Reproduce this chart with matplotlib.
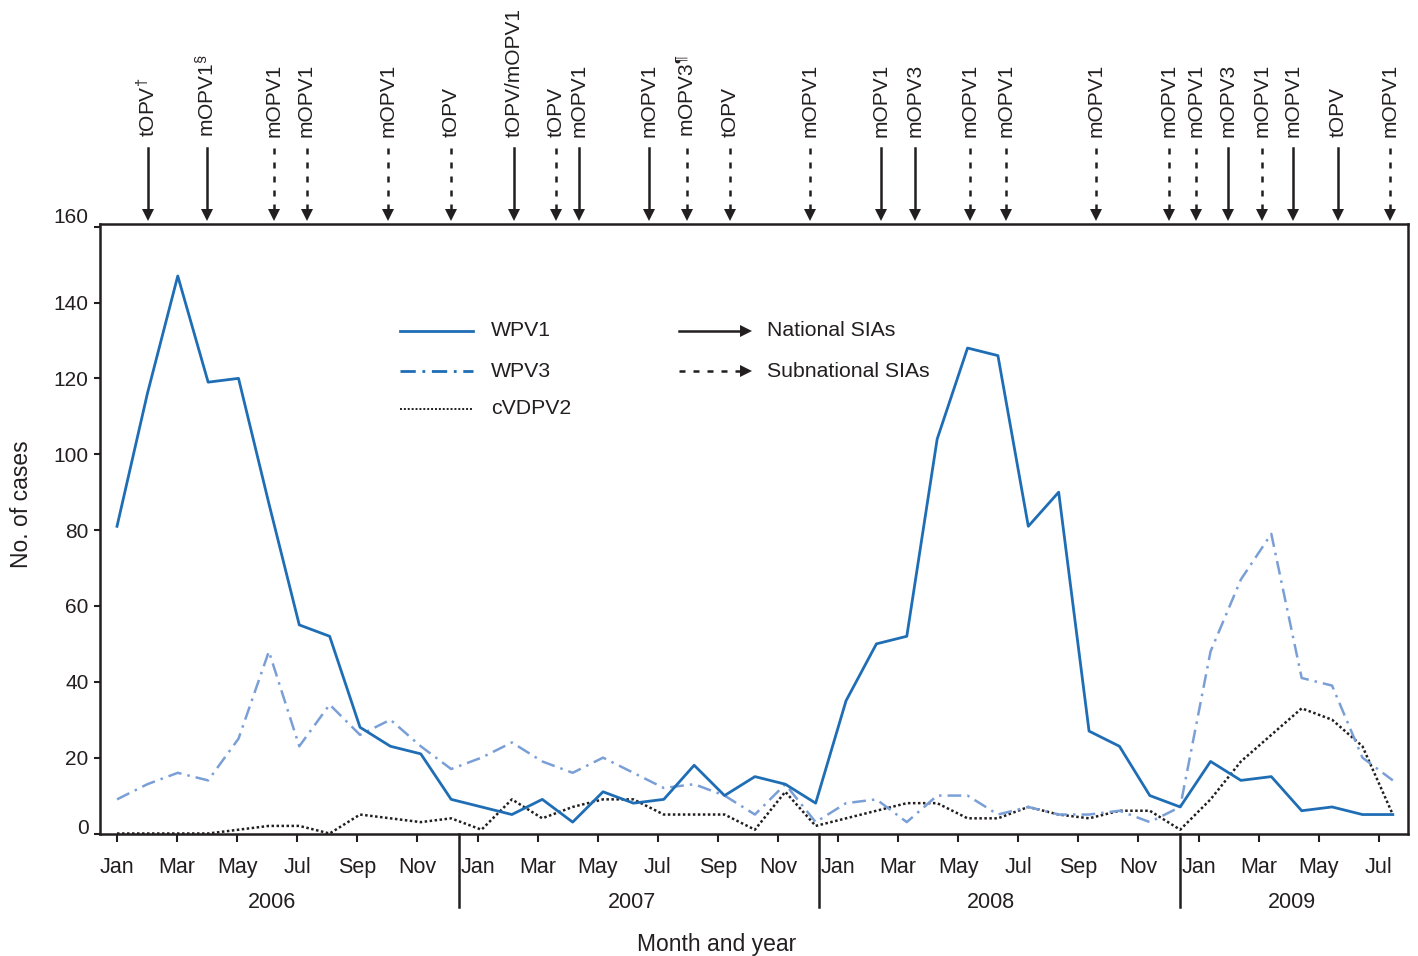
import numpy as np
import matplotlib
matplotlib.use('Agg')
import matplotlib.pyplot as plt
import matplotlib.transforms as mtransforms

plt.rcParams['font.family'] = ['Liberation Sans', 'DejaVu Sans']
plt.rcParams['mathtext.fontset'] = 'custom'
plt.rcParams['mathtext.rm'] = 'Liberation Sans'
plt.rcParams['mathtext.it'] = 'Liberation Sans:italic'

# monthly cases, Jan 2006 .. Jul 2009 (43 months)
wpv1 = [81, 116, 147, 119, 120, 87, 55, 52, 28, 23, 21, 9,
        7, 5, 9, 3, 11, 8, 9, 18, 10, 15, 13, 8,
        35, 50, 52, 104, 128, 126, 81, 90, 27, 23, 10, 7,
        19, 14, 15, 6, 7, 5, 5]
wpv3 = [9, 13, 16, 14, 25, 48, 23, 34, 26, 30, 23, 17,
        20, 24, 19, 16, 20, 16, 12, 13, 10, 5, 13, 3,
        8, 9, 3, 10, 10, 5, 7, 5, 5, 6, 3, 7,
        48, 67, 79, 41, 39, 20, 14]
cvdpv2 = [0, 0, 0, 0, 1, 2, 2, 0, 5, 4, 3, 4,
          1, 9, 4, 7, 9, 9, 5, 5, 5, 1, 11, 2,
          4, 6, 8, 8, 4, 4, 7, 5, 4, 6, 6, 1,
          9, 19, 26, 33, 30, 23, 5]

# SIA campaigns: position in months from Jan 2006, label, national (True) / subnational
sia_pos = [1.03, 2.97, 5.18, 6.24, 8.93, 11.0, 13.08, 14.45, 15.2, 17.5,
           18.77, 20.18, 22.83, 25.14, 26.27, 28.08, 29.26, 32.23, 34.64,
           35.52, 36.58, 37.71, 38.7, 40.2, 41.9]
sia_lab = [r'tOPV$^{\dagger}$', r'mOPV1$^{\S}$', 'mOPV1', 'mOPV1', 'mOPV1', 'tOPV',
           'tOPV/mOPV1', 'tOPV', 'mOPV1', 'mOPV1', r'mOPV3$^{\P}$', 'tOPV',
           'mOPV1', 'mOPV1', 'mOPV3', 'mOPV1', 'mOPV1', 'mOPV1', 'mOPV1',
           'mOPV1', 'mOPV3', 'mOPV1', 'mOPV1', 'tOPV', 'mOPV1']
sia_national = [True, True, False, False, False, False, True, False, True, True,
                False, False, False, True, True, False, False, False, False,
                False, True, False, True, True, False]

month_labels = ['Jan', 'Mar', 'May', 'Jul', 'Sep', 'Nov'] * 3 + ['Jan', 'Mar', 'May', 'Jul']
years = ['2006', '2007', '2008', '2009']

INK = '#231f20'
C_WPV1 = '#1f6eb5'
C_WPV3 = '#7a9fd6'

# month ticks in the source sit on a slightly tighter grid than the data points
TICK_STEP = 0.989

fig = plt.figure(figsize=(14.18, 9.56), dpi=100)
ax = fig.add_axes([100 / 1418, 1 - 833.5 / 956, 1308 / 1418, 609.5 / 956])

x = np.arange(len(wpv1))
ax.plot(x, cvdpv2, color=INK, lw=1.8, linestyle=(0, (1, 1)))
ax.plot(x, wpv3, color=C_WPV3, lw=1.8, dashes=[5.5, 2.4, 1, 2.4])
ax.plot(x, wpv1, color=C_WPV1, lw=2.0)

ax.set_xlim(-0.56, 42.5)
ax.set_ylim(0, 160.7)

for s in ax.spines.values():
    s.set_linewidth(1.8)
    s.set_color(INK)

ax.set_yticks(range(0, 161, 20))
ax.tick_params(axis='y', length=4.3, width=1.5, pad=4, labelsize=15, colors=INK)
ax.set_xticks([TICK_STEP * t for t in range(0, 43, 2)], labels=month_labels)
ax.tick_params(axis='x', length=5.8, width=1.5, pad=11, labelsize=15.5, colors=INK)

xt = ax.get_xaxis_transform()

# year separators and year labels
for k in range(3):
    d = TICK_STEP * (11.38 + 12 * k)
    ax.plot([d, d], [0, -0.12], transform=xt, color=INK, lw=1.8, clip_on=False)
for yr, c in zip(years, [5.15, 17.15, 29.1, 39.1]):
    ax.text(TICK_STEP * c, -0.1124, yr, transform=xt, ha='center', va='center',
            fontsize=15.5, color=INK)

# SIA arrows above the plot
for pos, lab, nat in zip(sia_pos, sia_lab, sia_national):
    ls = '-' if nat else (0, (2.4, 3.2))
    ax.plot([pos, pos], [1.1247, 1.02], transform=xt, color=INK, lw=1.8, ls=ls,
            clip_on=False)
    ax.plot([pos], [1.0148], transform=xt, marker='v', ms=9, mew=0, color=INK,
            clip_on=False)
    ax.text(pos, 1.1427, lab, transform=xt, rotation=90, ha='center', va='bottom',
            fontsize=15, color=INK)

# legend
rows = [0.8245, 0.7588, 0.6965]
ta = ax.transAxes
ax.plot([0.2294, 0.2852], [rows[0]] * 2, transform=ta, color=C_WPV1, lw=2.0)
ax.plot([0.2294, 0.2852], [rows[1]] * 2, transform=ta, color=C_WPV1, lw=2.0,
        dashes=[5.5, 2.4, 1, 2.4])
ax.plot([0.2294, 0.2852], [rows[2]] * 2, transform=ta, color=INK, lw=1.4,
        linestyle=(0, (1, 1)))
for r, lab in zip(rows, ['WPV1', 'WPV3', 'cVDPV2']):
    ax.text(0.2989, r, lab, transform=ta, va='center', fontsize=15.3, color=INK)

ax.plot([0.4427, 0.491], [rows[0]] * 2, transform=ta, color=INK, lw=1.8)
ax.plot([0.4427, 0.491], [rows[1]] * 2, transform=ta, color=INK, lw=1.8,
        ls=(0, (2.4, 3.2)))
for r in rows[:2]:
    ax.plot([0.4939], [r], transform=ta, marker='>', ms=9, mew=0, color=INK)
ax.text(0.5099, rows[0], 'National SIAs', transform=ta, va='center', fontsize=15.3, color=INK)
ax.text(0.5099, rows[1], 'Subnational SIAs', transform=ta, va='center', fontsize=15.3, color=INK)

fig.text(22 / 1418, 1 - 504 / 956, 'No. of cases', rotation=90, ha='center',
         va='center', fontsize=16.5, color=INK)
fig.text(717 / 1418, 1 - 945 / 956, 'Month and year', ha='center', va='center',
         fontsize=16.5, color=INK)

# the top and bottom y labels sit a little higher than their ticks
labels = ax.get_yticklabels()
for lab, dy in [(labels[0], 7), (labels[-1], 11)]:
    lab.set_transform(lab.get_transform() +
                      mtransforms.ScaledTranslation(0, dy / 100, fig.dpi_scale_trans))

fig.savefig('out.png', dpi=100)
